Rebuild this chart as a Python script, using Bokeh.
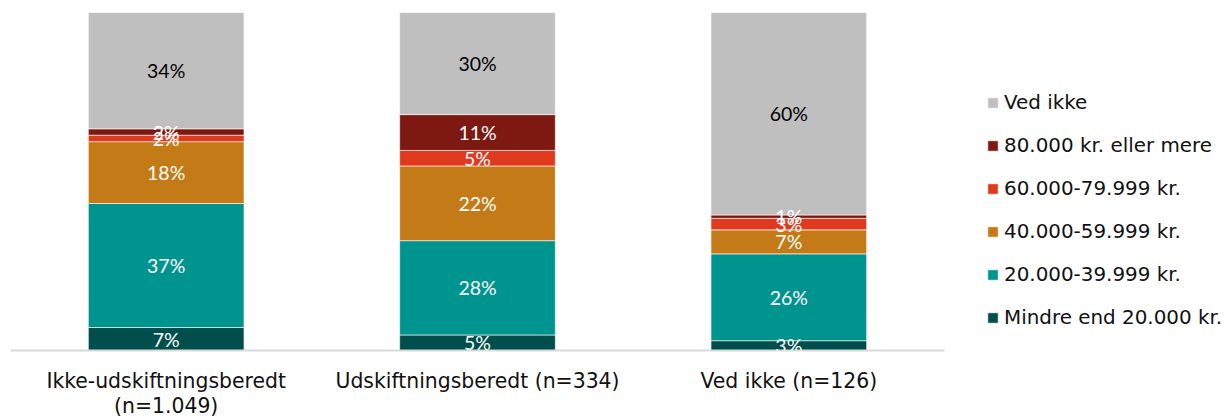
from bokeh.plotting import figure
from bokeh.models import ColumnDataSource, LabelSet, Legend, LegendItem, Range1d
from bokeh.core.properties import value
from bokeh.embed import file_html
from bokeh.resources import INLINE

categories = ["Ikke-udskiftningsberedt\n(n=1.049)", "Udskiftningsberedt (n=334)", "Ved ikke (n=126)"]
series = ["Mindre end 20.000 kr.", "20.000-39.999 kr.", "40.000-59.999 kr.",
          "60.000-79.999 kr.", "80.000 kr. eller mere", "Ved ikke"]
mindre_20 = [6.8, 4.6, 2.9]
k20_39 = [36.7, 27.9, 25.7]
k40_59 = [18.3, 22.1, 7.1]
k60_79 = [1.9, 4.6, 3.4]
k80_plus = [1.9, 10.6, 1.0]
ved_ikke = [34.4, 30.2, 59.9]
colors = ["#004F4D", "#00948F", "#C47B17", "#E03A1E", "#7E1912", "#BFBFBF"]
label_colors = ["white", "white", "white", "white", "white", "black"]

values = [mindre_20, k20_39, k40_59, k60_79, k80_plus, ved_ikke]
keys = ["s%d" % i for i in range(len(series))]
data = {"cat": categories}
for k, v in zip(keys, values):
    data[k] = v
source = ColumnDataSource(data)

FONT = "DejaVu Sans"
LABEL_FONT = "Lato"

p = figure(x_range=categories, y_range=Range1d(0, 100.6),
           frame_width=934, frame_height=340,
           output_backend="svg", toolbar_location=None,
           min_border_left=10, min_border_top=10, min_border_right=274,
           min_border_bottom=4)

renderers = p.vbar_stack(keys, x="cat", width=0.5, source=source, color=colors,
                         line_color="white", line_width=0.6)

# labels
lx, ly, lt, lc = [], [], [], []
for ci, cat in enumerate(categories):
    base = 0.0
    for si, v in enumerate(values):
        val = v[ci]
        lx.append(cat)
        ly.append(base + val / 2.0)
        lt.append("%d%%" % round(val))
        lc.append(label_colors[si])
        base += val
lsrc = ColumnDataSource(dict(x=lx, y=ly, text=lt, color=lc))
labels = LabelSet(x="x", y="y", text="text", source=lsrc, text_align="center",
                  text_baseline="middle", text_color="color",
                  text_font=value(LABEL_FONT), text_font_size="19.5px")
p.add_layout(labels)

items = [LegendItem(label=series[i], renderers=[renderers[i]]) for i in reversed(range(len(series)))]
legend = Legend(items=items, location=(42, 21), orientation="vertical",
                label_text_font=FONT, label_text_font_size="19.9px",
                label_text_color="#111111", glyph_width=13, glyph_height=13,
                label_height=22, spacing=20, padding=0, margin=0,
                border_line_color=None, background_fill_alpha=0,
                label_standoff=5)
p.add_layout(legend, "right")

p.yaxis.visible = False
p.xgrid.grid_line_color = None
p.ygrid.grid_line_color = None
p.outline_line_color = None
p.xaxis.axis_line_color = "#D9D9D9"
p.xaxis.axis_line_width = 2
p.xaxis.major_tick_line_color = None
p.xaxis.minor_tick_line_color = None
p.xaxis.major_label_text_font = FONT
p.xaxis.major_label_text_font_size = "20.4px"
p.xaxis.major_label_text_color = "#111111"
p.xaxis.major_label_text_line_height = 1.05
p.xaxis.major_label_standoff = 12
p.x_range.range_padding = 0

open("out.html", "w").write(file_html(p, INLINE))
